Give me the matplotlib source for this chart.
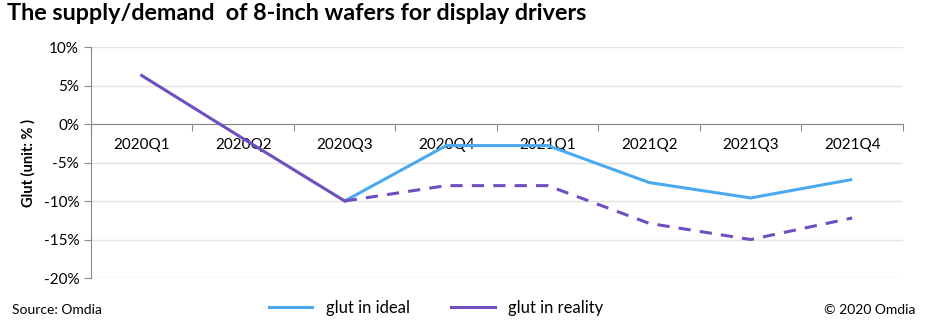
import matplotlib.pyplot as plt
from matplotlib.lines import Line2D

plt.rcParams['font.family'] = ['Lato', 'DejaVu Sans']

quarters = ['2020Q1', '2020Q2', '2020Q3', '2020Q4', '2021Q1', '2021Q2', '2021Q3', '2021Q4']
# glut in %
reality_actual = [6.3, -1.9, -10.0]          # 2020Q1..2020Q3, solid
reality_forecast = [-10.0, -8.0, -8.0, -12.9, -15.0, -12.2]  # 2020Q3..2021Q4, dashed
ideal = [-10.0, -2.8, -2.8, -7.6, -9.6, -7.2]  # 2020Q3..2021Q4

blue = '#4aa9ef'
purple = '#6f4fbf'

fig = plt.figure(figsize=(9.28, 3.31), dpi=100)
ax = fig.add_axes([0.098, 0.160, 0.875, 0.698])

x_all = list(range(len(quarters)))
ax.plot(x_all[2:], ideal, color=blue, lw=2.2, solid_capstyle='butt', zorder=3)
ax.plot(x_all[:3], reality_actual, color=purple, lw=2.2, zorder=4)
ax.plot(x_all[2:], reality_forecast, color=purple, lw=2.2, ls=(0, (4, 3)), zorder=4)

ax.set_xlim(-0.5, len(quarters) - 0.5)
ax.set_ylim(-20, 10)
ax.set_yticks(range(-20, 11, 5))
ax.set_yticklabels([f'{v}%' for v in range(-20, 11, 5)], fontsize=11)
ax.yaxis.grid(True, color='#e3e3e3', lw=1)
ax.set_axisbelow(True)

for s in ['top', 'right']:
    ax.spines[s].set_visible(False)
ax.spines['left'].set_color('#888888')
ax.spines['bottom'].set_position(('data', 0))
ax.spines['bottom'].set_color('#888888')

ax.set_xticks([i - 0.5 for i in range(len(quarters) + 1)])
ax.set_xticklabels([])
ax.set_xticks(x_all, minor=True)
ax.set_xticklabels(quarters, minor=True, fontsize=11)
ax.tick_params(axis='x', which='major', length=5, color='#888888')
ax.tick_params(axis='x', which='minor', length=0, pad=10)
ax.tick_params(axis='y', length=5, color='#888888')

ax.set_ylabel('Glut (unit: % )', fontsize=10.5, fontweight='bold', labelpad=6)

fig.text(0.008, 0.96, 'The supply/demand  of 8-inch wafers for display drivers',
         fontsize=16.8, fontweight='bold', va='center')
fig.text(0.013, 0.062, 'Source: Omdia', fontsize=10, va='center')
fig.text(0.986, 0.062, '\u00a9 2020 Omdia', fontsize=10, va='center', ha='right')

handles = [Line2D([], [], color=blue, lw=2.2), Line2D([], [], color=purple, lw=2.2)]
fig.legend(handles, ['glut in ideal', 'glut in reality'], loc='center',
           bbox_to_anchor=(0.47, 0.07), ncol=2, frameon=False, fontsize=12,
           handlelength=2.6, columnspacing=2.5)

fig.savefig('out.png', dpi=100)
